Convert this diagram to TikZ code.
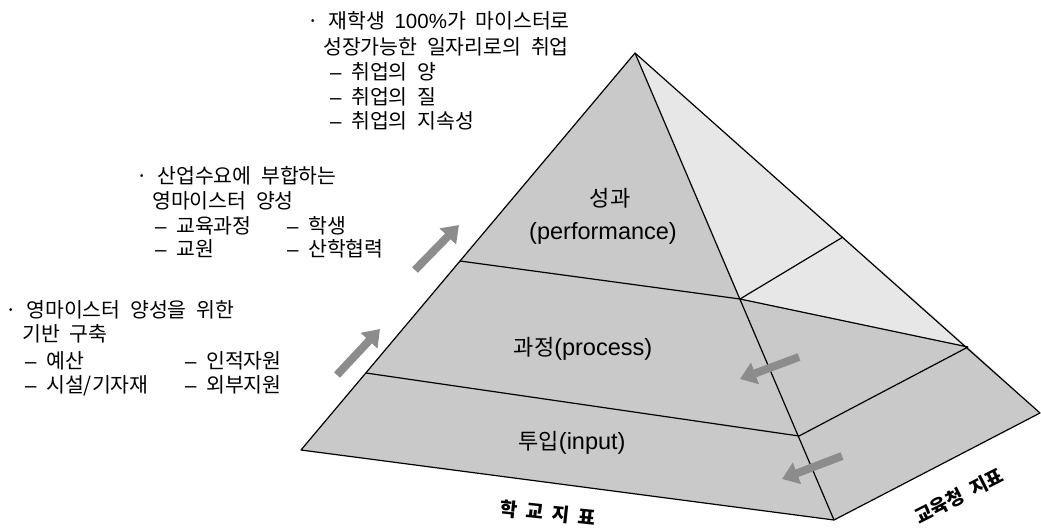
\documentclass[tikz,border=0pt]{standalone}
\usepackage{fontspec}
\setmainfont{Noto Sans CJK KR}[WordSpace=2.1]
\newfontfamily\lat{Liberation Sans}
\usetikzlibrary{arrows.meta}
\definecolor{facegray}{gray}{0.79}
\definecolor{lightgray}{gray}{0.905}
\definecolor{arrowgray}{gray}{0.55}
\newcommand{\ldash}{{\lat –}}
\tikzset{
  txt/.style={anchor=base west, inner sep=0pt, font=\fontsize{20.5}{24}\selectfont},
  lbl/.style={inner sep=0pt, font=\fontsize{22}{26}\selectfont},
  axislbl/.style={inner sep=0pt, font=\fontsize{19}{22}\selectfont\bfseries},
  edge/.style={draw=black, line width=1.2pt, line join=round},
  flow/.style={draw=arrowgray, line width=8pt, -{Triangle[width=22pt,length=16pt]}}
}
\begin{document}
\begin{tikzpicture}[x=1pt,y=-1pt]
\useasboundingbox (0,0) rectangle (1041,528);
% corner points
\coordinate (A) at (635,53);
\coordinate (L) at (301,450);
\coordinate (F) at (834,520);
\coordinate (R) at (1040,413);
\coordinate (L1) at (460,261);
\coordinate (L2) at (366,373);
\coordinate (F1) at (740,299);
\coordinate (F2) at (799,436);
\coordinate (R1) at (843,237);
\coordinate (R2) at (968,347);
% faces
\fill[facegray] (A) -- (L) -- (F) -- cycle;
\fill[lightgray] (A) -- (R2) -- (F1) -- cycle;
\fill[facegray] (F1) -- (R2) -- (R) -- (F) -- cycle;
% edges
\draw[edge] (A) -- (L) -- (F) -- (R) -- cycle;
\draw[edge] (A) -- (F);
\draw[edge] (L1) -- (F1);
\draw[edge] (L2) -- (F2);
\draw[edge] (F1) -- (R1);
\draw[edge] (F1) -- (R2);
\draw[edge] (R2) -- (F2);
% arrows
\coordinate (a1s) at (415,270); \coordinate (a1e) at (459,225);
\coordinate (a2s) at (337,375); \coordinate (a2e) at (380,329);
\coordinate (a3s) at (799,357); \coordinate (a3e) at (740,379);
\coordinate (a4s) at (842,456); \coordinate (a4e) at (782,479);
\draw[flow] (a1s) -- (a1e);
\draw[flow] (a2s) -- (a2e);
\draw[flow] (a3s) -- (a3e);
\draw[flow] (a4s) -- (a4e);
% pyramid labels
\node[lbl] (perf1) at (610,198) {성과};
\node[lbl] (perf2) at (603,233) {\lat\fontsize{23.5}{26}\selectfont (performance)};
\node[lbl] (proc) at (583,349) {과정{\lat\fontsize{23.5}{26}\selectfont (process)}};
\node[lbl] (inp) at (572,443) {투입{\lat\fontsize{23.5}{26}\selectfont (input)}};
\node[axislbl, rotate=-6] (school) at (548,513) {학\hspace{0.45em}교\hspace{0.45em}지\hspace{0.45em}표};
\node[axislbl, rotate=27] (office) at (959,496) {교육청 지표};
% text block 1
\node[txt] (t1a) at (307,28) {· 재학생 {\lat 100\%}가 마이스터로};
\node[txt] (t1b) at (323,54) {성장가능한 일자리로의 취업};
\node[txt] (t1c) at (330,79) {\ldash\ 취업의 양};
\node[txt] (t1d) at (330,104) {\ldash\ 취업의 질};
\node[txt] (t1e) at (330,128) {\ldash\ 취업의 지속성};
% text block 2
\node[txt] (t2a) at (136,183) {· 산업수요에 부합하는};
\node[txt] (t2b) at (152,208) {영마이스터 양성};
\node[txt] (t2c) at (155,233) {\ldash\ 교육과정};
\node[txt] (t2d) at (287,233) {\ldash\ 학생};
\node[txt] (t2e) at (155,256) {\ldash\ 교원};
\node[txt] (t2f) at (287,256) {\ldash\ 산학협력};
% text block 3
\node[txt] (t3a) at (5,317) {· 영마이스터 양성을 위한};
\node[txt] (t3b) at (22,341) {기반 구축};
\node[txt] (t3c) at (25,368) {\ldash\ 예산};
\node[txt] (t3d) at (185,368) {\ldash\ 인적자원};
\node[txt] (t3e) at (25,392) {\ldash\ 시설/기자재};
\node[txt] (t3f) at (185,392) {\ldash\ 외부지원};
\end{tikzpicture}
\end{document}
